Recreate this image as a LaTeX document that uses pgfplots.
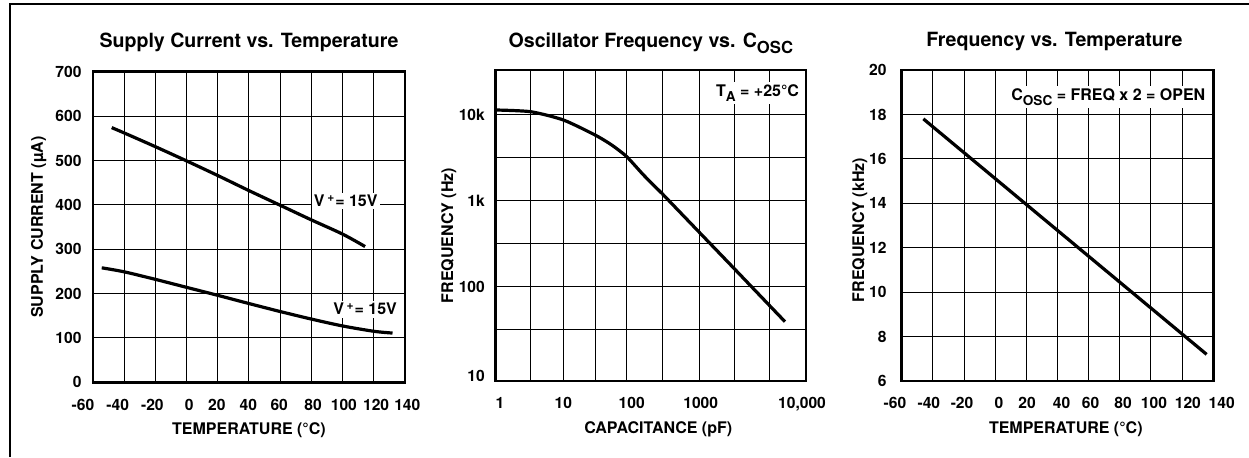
\documentclass[border=0pt]{standalone}
\usepackage{fontspec}
\setmainfont{TeX Gyre Heros}
\usepackage{graphicx}
\usepackage{pgfplots}
\pgfplotsset{compat=1.18}
\newcommand\lsub[1]{\raisebox{-0.32em}{\scalebox{0.85}{#1}}}
\tikzset{lab/.style={fill=white, inner sep=1.2pt, anchor=base, font=\bfseries\fontsize{8}{9.6}\selectfont}}
\pgfplotsset{
  chart/.style={
    scale only axis,
    anchor=south west,
    axis line style={line width=1.3pt},
    xmajorgrids, ymajorgrids,
    major grid style={black, line width=0.5pt},
    major tick length=0pt,
    minor tick length=0pt,
    tick label style={font=\bfseries\fontsize{7.8}{9}\selectfont},
    xticklabel style={yshift=-4.75pt},
    every axis title/.style={at={(axis description cs:0.5,1)}, anchor=base, yshift=12pt, font=\bfseries\fontsize{9.8}{11}\selectfont},
  },
  xlab/.style 2 args={every axis x label/.style={at={(axis description cs:0.5,0)}, xshift=#1, yshift=#2, anchor=base, font=\bfseries\fontsize{8}{9.6}\selectfont}},
  ylab/.style 2 args={every axis y label/.style={at={(axis description cs:0,0.5)}, xshift=#1, yshift=#2, rotate=90, anchor=base, font=\bfseries\fontsize{8}{9.6}\selectfont}},
  curve/.style={black, line width=1.6pt, no markers},
}
\begin{document}
\begin{tikzpicture}
\useasboundingbox (0,0) rectangle (624.5pt,228.5pt);
\draw[line width=1pt] (5pt,0) -- (5pt,226.65pt) -- (624.5pt,226.65pt);

% ---------- Chart 1 ----------
\begin{axis}[chart, at={(46.5pt,37.35pt)}, width=156pt, height=155.3pt,
  xmin=-60, xmax=140, ymin=0, ymax=700,
  xtick={-60,-40,...,140}, ytick={0,100,...,700},
  xticklabels={\hspace*{-10pt}-60,\hspace*{-6.5pt}-40,\hspace*{-3pt}-20,\hspace*{2.7pt}0,\hspace*{-1pt}20,\hspace*{-0.7pt}40,\hspace*{-1pt}60,\hspace*{1.7pt}80,\hspace*{1.3pt}100,\hspace*{2.3pt}120,\hspace*{2.3pt}140},
  yticklabels={0,100,200,300,400,500,600,700},
  yticklabel style={xshift=-2.25pt},
  title={Supply Current vs. Temperature},
  xlabel={TEMPERATURE (°C)}, ylabel={SUPPLY CURRENT (µA)},
  xlab={0pt}{-26.2pt}, ylab={-25pt}{0pt}]
\addplot[curve, smooth, tension=0.5] coordinates {(-48,574) (-40,562) (-20,531) (0,499) (20,466) (40,432) (60,399) (80,366) (100,334) (114.4,306)};
\addplot[curve, smooth, tension=0.5] coordinates {(-54.4,258) (-40,249) (-20,232) (0,214) (20,196) (40,177.5) (60,159.5) (80,142.5) (100,127) (120,115) (132,111)};
\node[lab] at (axis cs:102,395.8) {V\,\textsuperscript{+}= 15V};
\node[lab] at (axis cs:114.4,151.7) {V\,\textsuperscript{+}= 15V};
\end{axis}

% ---------- Chart 2 ----------
\begin{axis}[chart, at={(247.85pt,38pt)}, width=155.15pt, height=155.5pt,
  xmin=0, xmax=310.3, ymode=log, ymin=7.97, ymax=33400,
  xtick={0,35,67.6,99.3,131,166.6,203.6,238.6,273.6,310.3},
  xticklabels={\hspace*{4.3pt}1,,10,,\hspace*{5pt}100,,\hspace*{1.4pt}1000,,,\hspace*{-4pt}10{,}000},
  ytick={7.97,31.62,100,316.2,1000,3162,10000},
  yticklabels={\raisebox{5pt}{10},,100,,1k,,10k},
  yticklabel style={xshift=-1.9pt},
  title={Oscillator Frequency vs. C\lsub{OSC}},
  title style={yshift=-0.8pt},
  xlabel={CAPACITANCE (pF)}, ylabel={FREQUENCY (Hz)},
  xlab={3.7pt}{-26pt}, ylab={-21.3pt}{-5pt}]
\addplot[curve, smooth, tension=0.4] coordinates {(0,11430) (35,10910) (67.6,8750) (99.3,5850) (116,4470) (131,3270) (148,1990) (166.6,1208)};
\addplot[curve] coordinates {(166.6,1208) (203.6,430) (238.6,162) (273.6,60.7) (289.3,39.1)};
\node[lab] at (rel axis cs:0.844,0.914) {T\lsub{A} = +25°C};
\end{axis}

% ---------- Chart 3 ----------
\begin{axis}[chart, at={(450.85pt,38pt)}, width=155.8pt, height=155.5pt,
  xmin=-60, xmax=140, ymin=6, ymax=20,
  xtick={-60,-40,...,140}, ytick={6,8,...,20},
  xticklabels={\hspace*{-6.7pt}-60,\hspace*{-4pt}-40,\hspace*{-2pt}-20,\hspace*{3.8pt}0,\hspace*{0.7pt}20,\hspace*{4pt}40,\hspace*{2pt}60,\hspace*{3.3pt}80,\hspace*{3pt}100,\hspace*{5.7pt}120,\hspace*{8.4pt}140},
  yticklabels={6,8,10,12,14,16,18,20},
  yticklabel style={xshift=-4.1pt},
  title={Frequency vs. Temperature},
  title style={xshift=-1.5pt},
  xlabel={TEMPERATURE (°C)}, ylabel={FREQUENCY (kHz)},
  xlab={4.15pt}{-26pt}, ylab={-18.8pt}{-2.25pt}]
\addplot[curve] coordinates {(-46.1,17.8) (135.7,7.2)};
\node[lab] at (rel axis cs:0.663,0.9035) {C\lsub{OSC} = FREQ x 2 = OPEN};
\end{axis}
\end{tikzpicture}
\end{document}
